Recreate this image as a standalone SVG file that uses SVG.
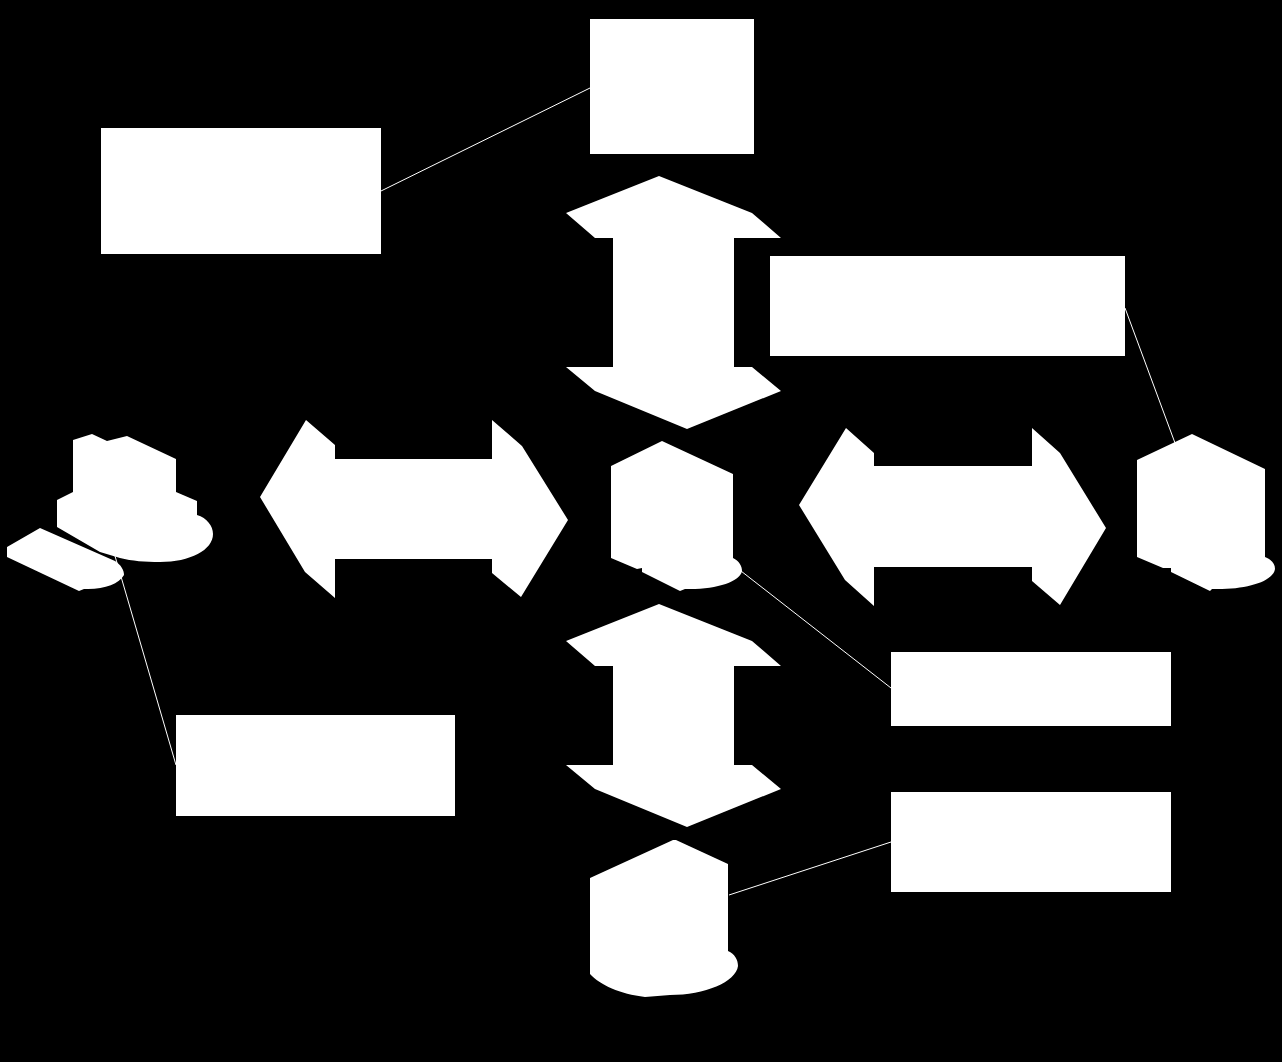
<svg xmlns="http://www.w3.org/2000/svg" width="1282" height="1062" viewBox="0 0 1282 1062">
<style>
.s{fill:#fff;stroke:none}
.c{fill:none;stroke:#fff;stroke-width:1}
</style>
<rect width="1282" height="1062" fill="#000"/>
<g id="connectors">
<path class="c" d="M381 191L590 88"/>
<path class="c" d="M1125 308L1175 443"/>
<path class="c" d="M741 571L891 688"/>
<path class="c" d="M729 895L891 842"/>
<path class="c" d="M115 556L176 765"/>
</g>
<g id="box-top"><rect class="s" x="590" y="19" width="164" height="135"/></g>
<g id="box-left"><rect class="s" x="101" y="128" width="280" height="126"/></g>
<g id="box-right"><rect class="s" x="770" y="256" width="355" height="100"/></g>
<g id="box-lower-left"><rect class="s" x="176" y="715" width="279" height="101"/></g>
<g id="box-lower-right-1"><rect class="s" x="891" y="652" width="280" height="74"/></g>
<g id="box-lower-right-2"><rect class="s" x="891" y="792" width="280" height="100"/></g>
<g id="arrow-up-top"><polygon class="s" points="659,176 752,213 781,238 734,238 734,367 752,367 781,391 687,429 595,391 566,367 613,367 613,238 595,238 566,213"/></g>
<g id="arrow-up-bottom"><polygon class="s" points="659,604 752,641 781,666 734,666 734,765 752,765 781,789 687,827 595,789 566,765 613,765 613,666 595,666 566,641"/></g>
<g id="arrow-left"><polygon class="s" points="260,497 306,420 335,445 335,459 492,459 492,420 522,446 568,520 521,597 492,573 492,559 335,559 335,598 305,572"/></g>
<g id="arrow-right"><polygon class="s" points="799,505 846,428 874,453 874,466 1032,466 1032,428 1060,453 1106,528 1060,605 1032,581 1032,567 874,567 874,606 845,580"/></g>
<g id="user-hat">
<path class="s" d="M73 440L92 434L107 441L127 436L176 459V492L197 501V515C207 518 213 526 213 534C213 550 190 562 160 562C145 562 132 561 120 558L100 552L57 527V500L73 492Z"/>
<path class="s" d="M7 547L40 528L115 561C121 565 124 570 124 575C119 584 103 590 84 589L79 591L7 557Z"/>
</g>
<g id="server-center">
<path class="s" d="M611 466L662 441L733 474V558C739 561 742 566 742 571C740 582 715 590 685 589L680 591L642 572V568L637 569L611 558Z"/>
</g>
<g id="server-right">
<path class="s" d="M1137 460L1192 434L1265 469V557C1272 560 1275 564 1275 569C1273 582 1245 590 1212 589L1210 591L1171 572V568L1163 568L1137 557Z"/>
</g>
<g id="server-bottom">
<path class="s" d="M590 878L673 840H676L728 864V951C735 954 738 960 738 966C736 982 705 995 670 995L645 997C620 994 600 985 590 974Z"/>
</g>
</svg>
